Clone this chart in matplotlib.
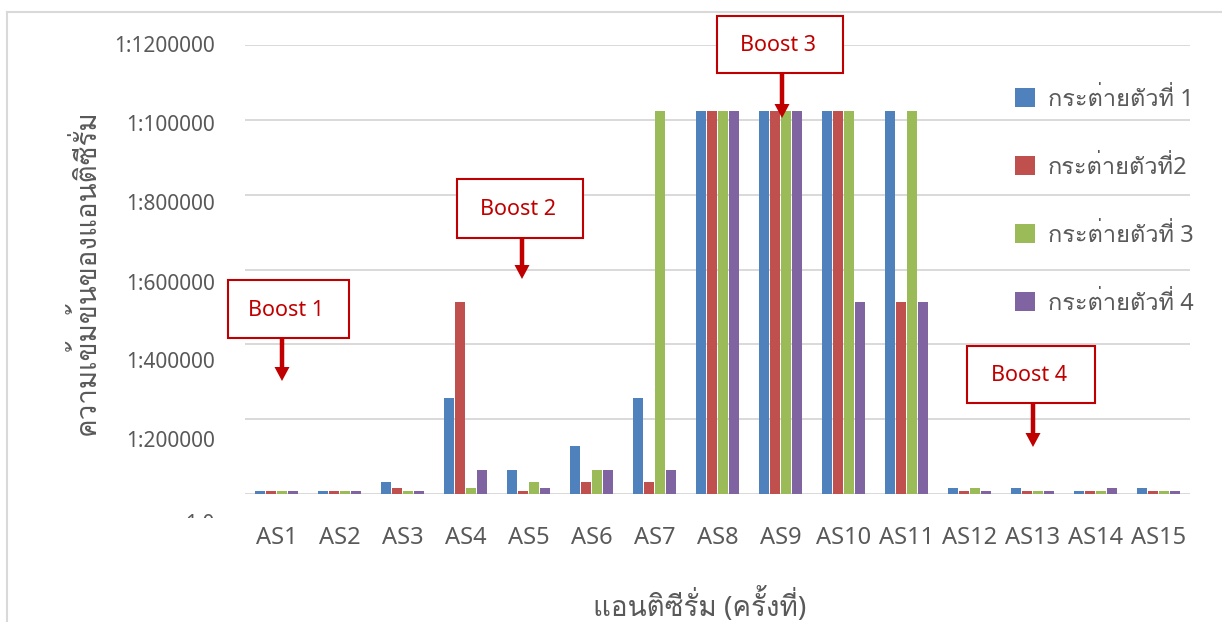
import numpy as np
import matplotlib
matplotlib.use('Agg')
import matplotlib.pyplot as plt
from matplotlib.patches import Rectangle, FancyArrow, Patch
from matplotlib.lines import Line2D
from matplotlib.transforms import Bbox, TransformedBbox, blended_transform_factory, ScaledTranslation

# Loma stacks Thai tone marks over upper vowels without shaping support
THAI = ['Noto Sans', 'Loma', 'DejaVu Sans']
plt.rcParams['font.family'] = THAI

# antiserum titres (dilution 1:x)
categories = ['AS1', 'AS2', 'AS3', 'AS4', 'AS5', 'AS6', 'AS7', 'AS8',
              'AS9', 'AS10', 'AS11', 'AS12', 'AS13', 'AS14', 'AS15']
rabbit1 = [8000, 8000, 32000, 256000, 64000, 128000, 256000, 1024000,
           1024000, 1024000, 1024000, 16000, 16000, 8000, 16000]
rabbit2 = [8000, 8000, 16000, 512000, 8000, 32000, 32000, 1024000,
           1024000, 1024000, 512000, 8000, 8000, 8000, 8000]
rabbit3 = [8000, 8000, 8000, 16000, 32000, 64000, 1024000, 1024000,
           1024000, 1024000, 1024000, 16000, 8000, 8000, 8000]
rabbit4 = [8000, 8000, 8000, 64000, 16000, 64000, 64000, 1024000,
           1024000, 512000, 512000, 8000, 8000, 16000, 8000]
series_names = ['กระต่ายตัวที่ 1', 'กระต่ายตัวที่2', 'กระต่ายตัวที่ 3', 'กระต่ายตัวที่ 4']
colors = ['#4F81BD', '#C0504D', '#9BBB59', '#8064A2']

y_ticks = [0, 200000, 400000, 600000, 800000, 1000000, 1200000]
y_ticklabels = ['1:0', '1:200000', '1:400000', '1:600000', '1:800000', '1:100000', '1:1200000']

boosts = ['Boost 1', 'Boost 2', 'Boost 3', 'Boost 4']

W, H = 1222, 622
TXT = '#595959'
GRID = '#D9D9D9'
RED = '#C00000'


def fx(px):
    return px / W


def fy(py):
    return 1 - py / H


fig = plt.figure(figsize=(W / 100, H / 100), dpi=100)
ax = fig.add_axes([fx(245), fy(494), fx(1190) - fx(245), fy(45) - fy(494)])

x = np.arange(len(categories))
step, bw = 0.175, 0.158
for i, (vals, c, name) in enumerate(zip([rabbit1, rabbit2, rabbit3, rabbit4], colors, series_names)):
    ax.bar(x + (i - 1.5) * step, vals, bw, color=c, label=name, zorder=3)

ax.set_xlim(-0.5, len(categories) - 0.5)
ax.set_ylim(0, 1200000)
ax.set_yticks(y_ticks)
ax.grid(axis='y', color=GRID, lw=1.4, zorder=0)
ax.set_axisbelow(True)
for s in ax.spines.values():
    s.set_visible(False)
ax.tick_params(axis='both', length=0)
ax.tick_params(axis='y', labelleft=False)
ax.set_xticks(x)
ax.set_xticklabels(categories, fontsize=17, color=TXT)
ax.tick_params(axis='x', pad=23)

# y labels drift a little below their gridlines, as in the original; "1:0" is cut off
offsets_px = [31, 22, 18, 15, 10, 6, 2]
clip = TransformedBbox(Bbox.from_extents(0, fy(518), 1, 1), fig.transFigure)
base = blended_transform_factory(ax.transAxes, ax.transData)
for v, lab, off in zip(y_ticks, y_ticklabels, offsets_px):
    t = ax.text(-30 / (1190 - 245), v, lab, ha='right', va='center', fontsize=15, color=TXT,
                transform=base + ScaledTranslation(0, -off / 100, fig.dpi_scale_trans))
    t.set_clip_path(None)
    t.set_clip_box(clip)
    t.set_clip_on(True)

fig.text(fx(86), fy(272), 'ความเข้มข้นของแอนติซีรั่ม', rotation=90, ha='center', va='center',
         fontsize=20, color=TXT, family=THAI)
fig.text(fx(700), fy(606), 'แอนติซีรั่ม (ครั้งที่)', ha='center', va='center', fontsize=20,
         color=TXT, family=THAI)

handles = [Patch(facecolor=c, edgecolor='none') for c in colors]
ax.legend(handles, series_names, loc='upper left', bbox_to_anchor=(fx(1015), fy(88)),
          bbox_transform=fig.transFigure, frameon=False, labelcolor=TXT,
          prop={'family': THAI, 'size': 17},
          handlelength=0.85, handleheight=0.85, handletextpad=0.55, labelspacing=1.86,
          borderpad=0, borderaxespad=0)

# outer chart border (runs off the right and bottom of the crop)
fig.add_artist(Line2D([fx(7), 1], [fy(12), fy(12)], color=GRID, lw=1.5, transform=fig.transFigure))
fig.add_artist(Line2D([fx(7), fx(7)], [fy(12), 0], color=GRID, lw=1.5, transform=fig.transFigure))

# boost call-outs: box (left, top, right, bottom) and arrow (x, y0, y1) in pixels
boxes = [(228, 280, 349, 338), (457, 179, 583, 238), (717, 16, 843, 73), (967, 346, 1095, 403)]
arrows = [(282, 338, 381), (522, 238, 279), (782, 73, 118), (1033, 403, 447)]
inch = fig.dpi_scale_trans
for name, (l, t, r, b), (ax_x, y0, y1) in zip(boosts, boxes, arrows):
    fig.add_artist(FancyArrow(ax_x / 100, (H - y0) / 100, 0, -(y1 - y0) / 100, width=0.045,
                              head_width=0.15, head_length=0.14, length_includes_head=True,
                              color=RED, lw=0, transform=inch))
    fig.add_artist(Rectangle((l / 100, (H - b) / 100), (r - l) / 100, (b - t) / 100,
                             facecolor='white', edgecolor=RED, lw=1.5, transform=inch))
    fig.text(fx((l + r) / 2 - 2), fy((t + b) / 2 + 1), name, ha='center', va='center',
             fontsize=15.5, color=RED)

fig.savefig('out.png', dpi=100)
